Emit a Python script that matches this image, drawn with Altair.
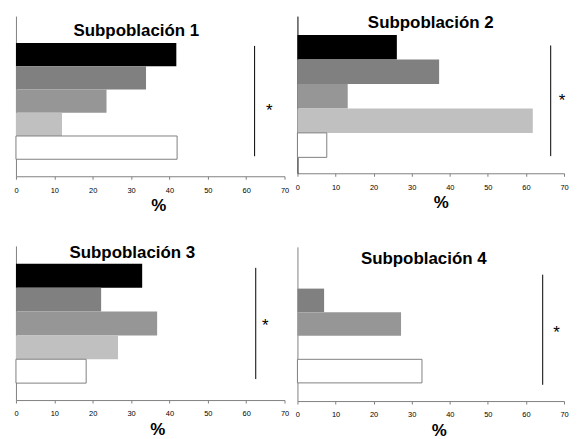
import altair as alt
import pandas as pd

slots = [0, 1, 2, 3, 4]
colors = ["#000000", "#808080", "#969696", "#c0c0c0", "#ffffff"]
titles = ["Subpoblación 1", "Subpoblación 2", "Subpoblación 3", "Subpoblación 4"]
p1 = [41.8, 33.9, 23.6, 12.0, 42.0]
p2 = [26.1, 37.2, 13.2, 61.8, 7.7]
p3 = [32.9, 22.2, 36.8, 26.6, 18.3]
p4 = [0.0, 7.0, 27.2, 0.0, 32.7]
values = [p1, p2, p3, p4]
ticks = [0, 10, 20, 30, 40, 50, 60, 70]
sig_x = [62.2, 66.5, 62.5, 64.4]
sig_y0 = [0.13, 0.43, 0.17, 0.41]
sig_y1 = [4.87, 4.95, 4.83, 5.08]
star_x = [66.0, 69.5, 65.0, 68.0]
star_y = [2.65, 2.42, 2.33, 2.6]
ydomains = [[-1.15, 5.73], [-0.77, 5.65], [-0.75, 5.71], [-0.77, 5.77]]
widths = [270, 268, 270, 268]
heights = [161, 158, 155, 155]
title_x = [121, 134, 117, 127]
title_y = [20, 12, 12, 17]
pct_x = [143, 144, 142, 142]

FONT = "Liberation Sans"
AX = "#808080"


def panel(i):
    df = pd.DataFrame({
        "slot": slots,
        "slot_end": [s + 1 for s in slots],
        "value": values[i],
        "color": colors,
    })
    df = df[df["value"] > 0]
    sig = pd.DataFrame({"x": [sig_x[i]], "y0": [sig_y0[i]], "y1": [sig_y1[i]],
                        "sx": [star_x[i]], "sy": [star_y[i]]})
    xscale = alt.Scale(domain=[0, 70], nice=False)
    yscale = alt.Scale(domain=ydomains[i], reverse=True, nice=False, zero=False)
    xaxis = alt.Axis(values=ticks, grid=False, tickSize=3,
                     labelFont=FONT, labelFontSize=7.5, labelOverlap=False,
                     labelColor="#000000", labelPadding=7, domainColor=AX,
                     tickColor=AX, title="%", titleFont=FONT, titleFontSize=17,
                     titleFontWeight="bold", titlePadding=4, titleColor="#000000",
                     titleX=pct_x[i], labelFlush=False, labelBound=False)
    yaxis = alt.Axis(labels=False, ticks=False, grid=False, title=None,
                     domainColor=AX if i != 1 else "#000000")
    bars = alt.Chart(df).mark_rect(stroke=AX, strokeWidth=1).encode(
        x=alt.X("zero:Q", scale=xscale, axis=xaxis),
        x2=alt.X2("value:Q"),
        y=alt.Y("slot:Q", scale=yscale, axis=yaxis),
        y2="slot_end:Q",
        fill=alt.Fill("color:N", scale=None),
        strokeOpacity=alt.condition("datum.color == '#ffffff'", alt.value(1), alt.value(0)),
    ).transform_calculate(zero="0")
    rule = alt.Chart(sig).mark_rule(color="#000000", strokeWidth=1).encode(
        x=alt.X("x:Q", scale=xscale, axis=xaxis),
        y=alt.Y("y0:Q", scale=yscale, axis=yaxis), y2="y1:Q")
    star = alt.Chart(sig).mark_text(text="*", fontSize=17, font=FONT,
                                    baseline="middle", dy=7).encode(
        x=alt.X("sx:Q", scale=xscale, axis=xaxis),
        y=alt.Y("sy:Q", scale=yscale, axis=yaxis))
    title = alt.Chart(pd.DataFrame({"t": [titles[i]]})).mark_text(
        font=FONT, fontSize=17, fontWeight="bold", baseline="alphabetic",
        align="center", color="#000000").encode(
        text="t:N", x=alt.value(title_x[i]), y=alt.value(title_y[i]))
    return alt.layer(bars, rule, star, title).properties(
        width=widths[i], height=heights[i])


left = alt.vconcat(panel(0), panel(2), spacing=30)
right = alt.vconcat(panel(1), panel(3), spacing=36)
chart = alt.hconcat(left, right, spacing=5).properties(
    padding={"left": 5, "top": 5, "right": 0, "bottom": 0}
).configure(
    background="#ffffff",
    view=alt.ViewConfig(stroke=None),
    axis=alt.AxisConfig(labelOverlap=False),
)

chart.save("out.html", embed_options={"renderer": "svg", "actions": False})
